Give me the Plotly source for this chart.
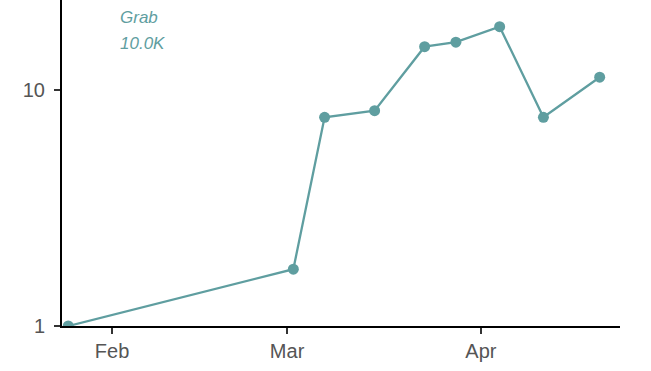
import plotly.graph_objects as go

dates = ["2021-01-25", "2021-03-02", "2021-03-07", "2021-03-15", "2021-03-23",
         "2021-03-28", "2021-04-04", "2021-04-11", "2021-04-20"]
values = [1.0, 1.74, 7.66, 8.17, 15.25, 15.93, 18.54, 7.66, 11.32]
tick_dates = ["2021-02-01", "2021-03-01", "2021-04-01"]
tick_labels = ["Feb", "Mar", "Apr"]
label_name = "Grab"
label_value = "10.0K"

color = "#5F9EA0"
font_family = "Liberation Sans, Arial, sans-serif"

fig = go.Figure()
fig.add_trace(go.Scatter(
    x=dates, y=values, mode="lines+markers",
    line=dict(color=color, width=2.3),
    marker=dict(color=color, size=11),
    showlegend=False, cliponaxis=True, hoverinfo="skip",
))

fig.update_layout(
    width=651, height=371,
    margin=dict(l=62, r=31, t=0, b=45, autoexpand=False),
    plot_bgcolor="white", paper_bgcolor="white",
    font=dict(family=font_family, color="#555555", size=16),
)
axis_common = dict(
    showgrid=False, zeroline=False, automargin=False,
    showline=True, linecolor="black", linewidth=2,
    ticks="outside", ticklen=6, tickwidth=2, tickcolor="#333333",
    tickfont=dict(size=20, color="#555555", family=font_family),
)
fig.update_xaxes(
    type="date", range=["2021-01-24", "2021-04-23 06:00"],
    tickvals=tick_dates, ticktext=tick_labels, ticklabelstandoff=0, **axis_common,
)
fig.update_yaxes(
    type="log", range=[0, 1.381],
    tickvals=[1, 10], ticktext=["1", "10"], ticklabelstandoff=5, **axis_common,
)

fig.add_annotation(x=0.1, y=1 - 17 / 326, xref="paper", yref="paper",
                   text="<i>" + label_name + "</i>", showarrow=False,
                   xanchor="left", yanchor="middle",
                   font=dict(size=17, color=color, family=font_family))
fig.add_annotation(x=0.1, y=1 - 43 / 326, xref="paper", yref="paper",
                   text="<i>" + label_value + "</i>", showarrow=False,
                   xanchor="left", yanchor="middle",
                   font=dict(size=17, color=color, family=font_family))

fig.write_html("out.html", config={"displayModeBar": False},
               post_script="document.body.style.margin='0';")
